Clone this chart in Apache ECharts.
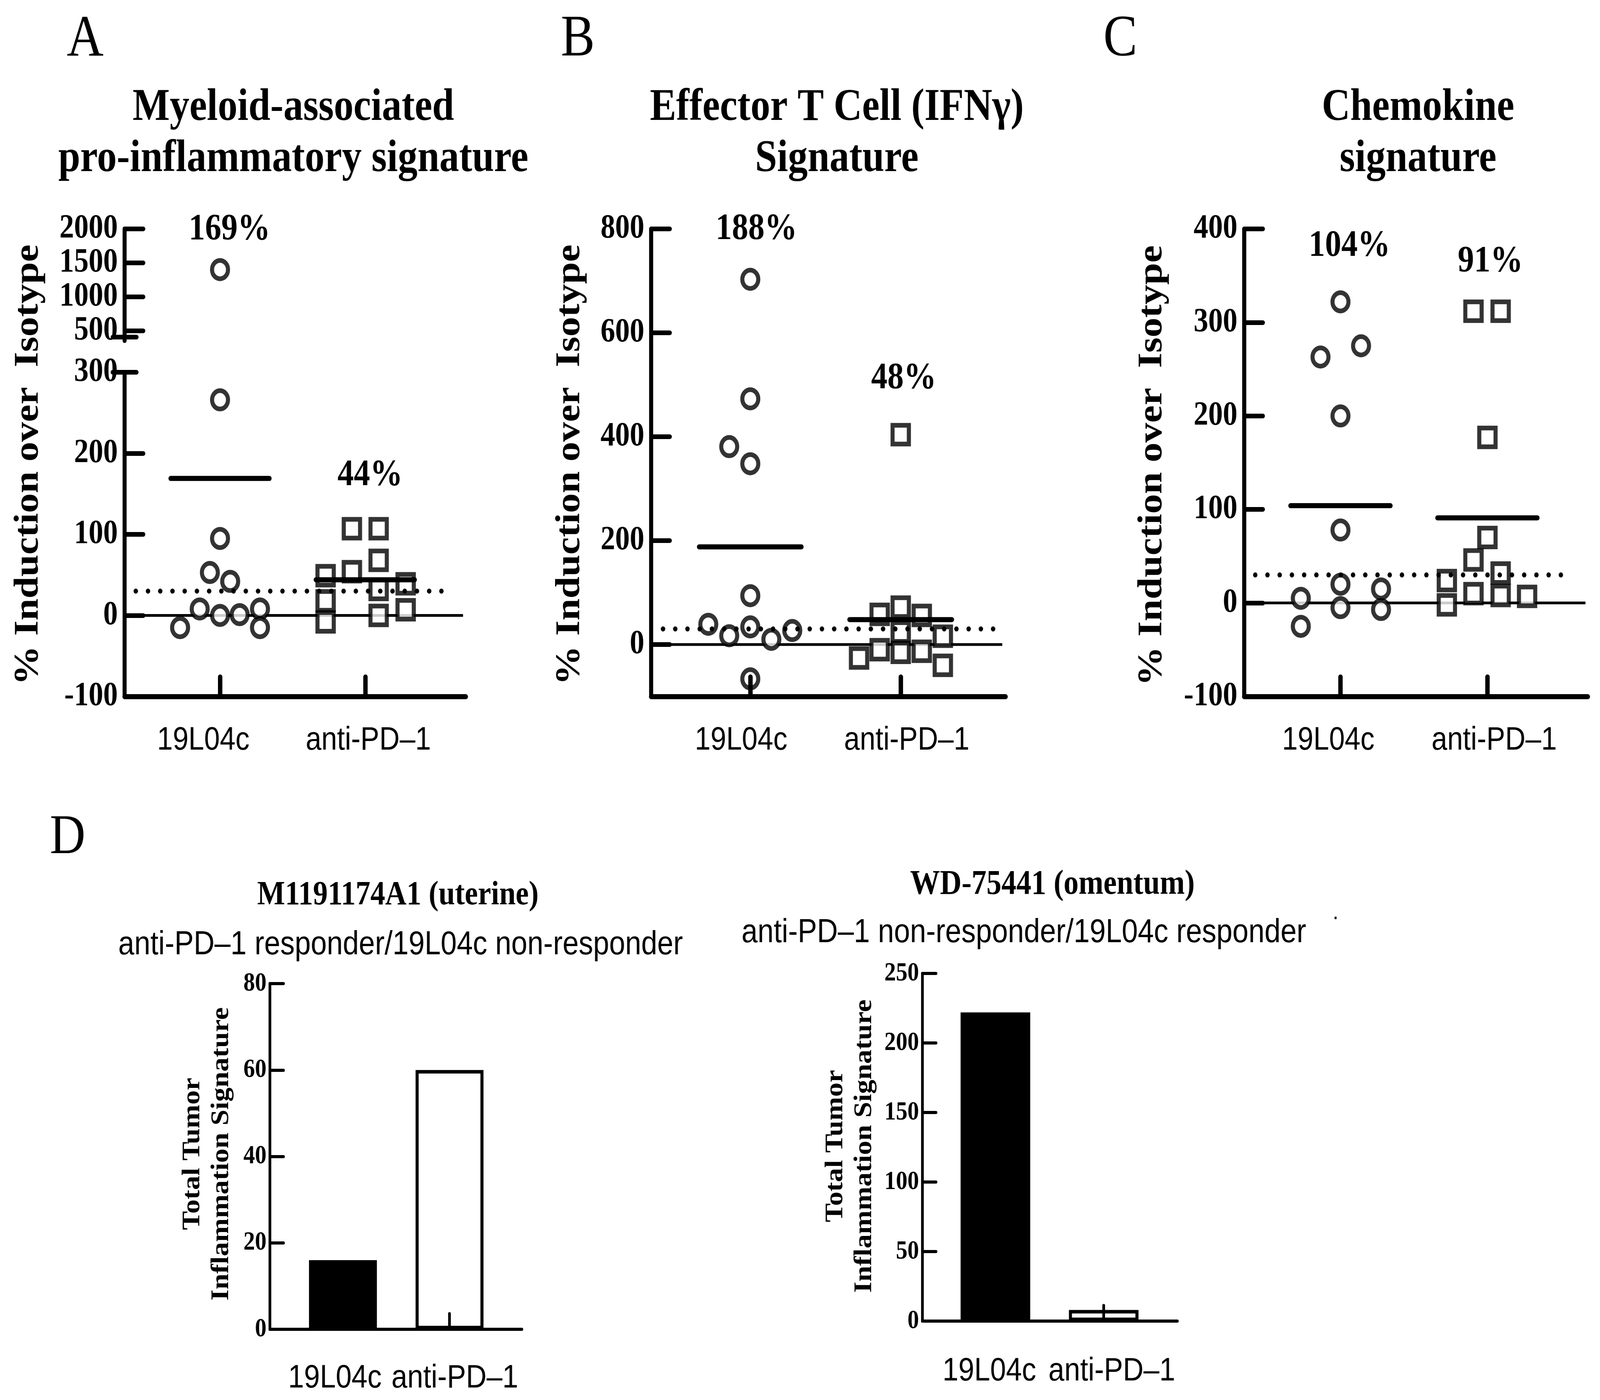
<!DOCTYPE html>
<html>
<head>
<meta charset="utf-8">
<title>Signature induction over isotype</title>
<script src="https://cdn.jsdelivr.net/npm/echarts@6/dist/echarts.min.js"></script>
<style>
html, body { margin: 0; padding: 0; background: #fff; overflow: hidden; }
#chart { position: fixed; left: 0; top: 0; width: 4713px; height: 3584px; transform-origin: 0 0; }
</style>
</head>
<body>
<div id="chart"></div>
<script>
var groups = ['19L04c', 'anti-PD\u20131'];
var threshold = 30;

// A: myeloid-associated pro-inflammatory signature (% induction over isotype)
var myeloid19L = [1401, 266, 95, 53, 42, 8, 0, 1, 8, -15, -15];
var myeloid19LJitter = [0, 0, 0, -0.07, 0.07, -0.14, 0, 0.135, 0.275, -0.275, 0.275];
var myeloidPD1 = [49, 18, -8, 107, 54, 107, 68, 32, 0, 39, 7];
var myeloidPD1Jitter = [-0.273, -0.273, -0.273, -0.092, -0.092, 0.092, 0.092, 0.092, 0.092, 0.278, 0.278];
var myeloidMeans = [169, 44];
var myeloidUpperTicks = [500, 1000, 1500, 2000];

// B: effector T cell (IFNγ) signature
var effector19L = [703, 473, 348, 94, 34, -66, 381, 17, 39, 27, 10];
var effector19LJitter = [0, 0, 0, 0, 0, 0, -0.14, -0.14, -0.279, 0.279, 0.14];
var effectorPD1 = [404, -26, 58, -10, 72, 24, -15, 56, -13, 16, -40];
var effectorPD1Jitter = [0, -0.277, -0.14, -0.14, 0, 0, 0, 0.14, 0.14, 0.28, 0.28];
var effectorMeans = [188, 48];
var effectorTicks = [0, 200, 400, 600, 800];

// C: chemokine signature
var chemo19L = [322, 200, 78, 20, -5, 275, 263, 15, -7, 5, -25];
var chemo19LJitter = [0, 0, 0, 0, 0, 0.14, -0.136, 0.276, 0.276, -0.27, -0.27];
var chemoPD1 = [24, -2, 312, 46, 10, 177, 70, 312, 32, 8, 7];
var chemoPD1Jitter = [-0.276, -0.276, -0.095, -0.095, -0.095, 0, 0, 0.09, 0.09, 0.09, 0.27];
var chemoMeans = [104, 91];

// D: total tumor inflammation signature
var tisUterine = [16, 60];
var tisOmentum = [222, 8];

var serif = '"Liberation Serif"';
var sans = '"Liberation Sans"';

// the drawing is laid out on a 4713 x 3584 board, stretched to fill the window
var W = 4713, H = 3584;
var box = document.getElementById('chart');
box.style.transform = 'scale(' + (window.innerWidth / W) + ',' + (window.innerHeight / H) + ')';

function points(vals, jitter, group) {
  return vals.map(function (v, i) { return [group + jitter[i], v]; });
}

var markerStyle = { color: '#fff', borderColor: '#000', borderWidth: 12 };

function dots(data, ax, symbol) {
  return {
    type: 'scatter', xAxisIndex: ax, yAxisIndex: ax, data: data,
    symbol: symbol, symbolSize: symbol === 'circle' ? 47 : 48,
    itemStyle: markerStyle, z: 3, silent: true
  };
}

function hline(ax, y, x0, x1, style, z) {
  return {
    type: 'line', xAxisIndex: ax, yAxisIndex: ax, data: [[x0, y], [x1, y]],
    symbol: 'none', lineStyle: style, z: z, silent: true
  };
}

function meanLines(ax, means) {
  return means.map(function (m, i) {
    return hline(ax, m, i + 1 - 0.34, i + 1 + 0.34, { color: '#000', width: 13, cap: 'round' }, 5);
  });
}

function dottedLine(ax, x0, x1) {
  return hline(ax, threshold, x0, x1, { color: '#000', width: 13, type: [0.01, 36], cap: 'round' }, 4);
}

function zeroLine(ax, x0, x1) {
  return hline(ax, 0, x0, x1, { color: '#000', width: 7 }, 1);
}

// labels sit a little off their ticks, as in the figure
function catLabel(size, shiftL, shiftR, margin) {
  return {
    customValues: [1 + shiftL, 2 + shiftR],
    margin: margin,
    color: '#000', fontFamily: sans, fontSize: size,
    formatter: function (v) { return v < 1.5 ? groups[0] : groups[1]; }
  };
}

function xAx(grid, min, max, label, thick, tickLen) {
  return {
    type: 'value', gridIndex: grid, min: min, max: max, z: 6,
    axisLine: { show: true, onZero: false, lineStyle: { color: '#000', width: thick, cap: 'round' } },
    axisTick: { show: true, inside: true, length: tickLen, customValues: [1, 2], lineStyle: { color: '#000', width: thick, cap: 'round' } },
    axisLabel: label,
    splitLine: { show: false }
  };
}

function yAx(grid, min, max, extra, big) {
  var ax = {
    type: 'value', gridIndex: grid, min: min, max: max,
    axisLine: { show: true, onZero: false, lineStyle: { color: '#000', width: big ? 12 : 8 } },
    axisTick: { show: true, inside: true, length: big ? 55 : 40, lineStyle: { color: '#000', width: big ? 12 : 8, cap: 'round' } },
    axisLabel: {
      color: '#000', fontFamily: serif, fontWeight: 'bold', fontSize: big ? 86 : 68, margin: big ? 20 : 10,
      formatter: function (v) { return String(v); }
    },
    splitLine: { show: false }
  };
  for (var k in extra) {
    if (typeof extra[k] === 'object' && ax[k]) Object.assign(ax[k], extra[k]); else ax[k] = extra[k];
  }
  return ax;
}

var upperA = points(myeloid19L, myeloid19LJitter, 1).filter(function (p) { return p[1] > 300; });
var lowerA = points(myeloid19L, myeloid19LJitter, 1).filter(function (p) { return p[1] <= 300; });

var barStyles = [
  { color: '#000', borderColor: '#000', borderWidth: 9 },
  { color: '#fff', borderColor: '#000', borderWidth: 9 }
];
function bars(vals) {
  return vals.map(function (v, i) { return { value: [i + 1, v], itemStyle: barStyles[i] }; });
}

function text(id, x, y, str, font, extra) {
  var el = {
    type: 'text', id: id, x: x, y: y, z: 10, silent: true,
    style: { text: str, font: font, fill: '#000', align: 'center', verticalAlign: 'middle' }
  };
  if (extra) {
    if (extra.rotation) el.rotation = extra.rotation;
    if (extra.lineHeight) el.style.lineHeight = extra.lineHeight;
  }
  return el;
}

var rot = { rotation: Math.PI / 2 };
var yTitle = '% Induction over  Isotype';
var tisTitle = 'Total Tumor\nInflammation Signature';

var option = {
  animation: false,
  backgroundColor: '#fff',
  grid: [
    { left: 367, top: 586, width: 1005, height: 286, outerBoundsMode: 'none' },
    { left: 367, top: 953, width: 1005, height: 830, outerBoundsMode: 'none' },
    { left: 1918, top: 586, width: 1044, height: 1197, outerBoundsMode: 'none' },
    { left: 3665, top: 586, width: 1012, height: 1197, outerBoundsMode: 'none' },
    { left: 795, top: 2518, width: 742, height: 885, outerBoundsMode: 'none' },
    { left: 2717, top: 2492, width: 751, height: 890, outerBoundsMode: 'none' }
  ],
  xAxis: [
    { type: 'value', gridIndex: 0, min: 0.343, max: 2.692, show: false },
    xAx(1, 0.343, 2.692, catLabel(83, -0.115, 0.021, 72), 13, 50),
    xAx(2, 0.341, 2.697, catLabel(83, -0.061, 0.04, 72), 13, 50),
    xAx(3, 0.345, 2.683, catLabel(83, -0.083, 0.046, 72), 13, 50),
    xAx(4, 0.315, 2.678, catLabel(84, -0.075, 0.05, 84), 8, 40),
    xAx(5, 0.326, 2.68, catLabel(84, -0.056, 0.075, 87), 8, 40)
  ],
  yAxis: [
    yAx(0, 356, 2000, { axisTick: { customValues: myeloidUpperTicks }, axisLabel: { customValues: myeloidUpperTicks } }, true),
    yAx(1, -100, 300, { interval: 100, axisTick: { customValues: [-100, 0, 100, 200] }, axisLabel: { customValues: [-100, 0, 100, 200, 300] } }, true),
    yAx(2, -100, 800, { axisTick: { customValues: effectorTicks }, axisLabel: { customValues: effectorTicks } }, true),
    yAx(3, -100, 400, { interval: 100 }, true),
    yAx(4, 0, 80, { interval: 20 }, false),
    yAx(5, 0, 250, { interval: 50 }, false)
  ],
  series: [
    dots(upperA, 0, 'circle'),
    zeroLine(1, 0.343, 2.673),
    dots(lowerA, 1, 'circle'),
    dots(points(myeloidPD1, myeloidPD1Jitter, 2), 1, 'rect'),
    dottedLine(1, 0.42, 2.585),

    zeroLine(2, 0.341, 2.675),
    dots(points(effector19L, effector19LJitter, 1), 2, 'circle'),
    dots(points(effectorPD1, effectorPD1Jitter, 2), 2, 'rect'),
    dottedLine(2, 0.42, 2.635),

    zeroLine(3, 0.345, 2.667),
    dots(points(chemo19L, chemo19LJitter, 1), 3, 'circle'),
    dots(points(chemoPD1, chemoPD1Jitter, 2), 3, 'rect'),
    dottedLine(3, 0.42, 2.565),

    { type: 'bar', xAxisIndex: 4, yAxisIndex: 4, barWidth: 200, data: bars(tisUterine), z: 2, silent: true },
    { type: 'bar', xAxisIndex: 5, yAxisIndex: 5, barWidth: 205, data: bars(tisOmentum), z: 2, silent: true }
  ].concat(meanLines(1, myeloidMeans), meanLines(2, effectorMeans), meanLines(3, chemoMeans)),
  graphic: [
    text('la', 251, 103, 'A', '150px ' + serif),
    text('lb', 1702, 103, 'B', '150px ' + serif),
    text('lc', 3300, 103, 'C', '150px ' + serif),
    text('ld', 199, 2146, 'D', '145px ' + serif),
    text('ta', 864, 343, 'Myeloid-associated\npro-inflammatory signature', 'bold 116px ' + serif, { lineHeight: 131 }),
    text('tb', 2465, 343, 'Effector T Cell (IFN\u03b3)\nSignature', 'bold 116px ' + serif, { lineHeight: 131 }),
    text('tc', 4177, 343, 'Chemokine\nsignature', 'bold 116px ' + serif, { lineHeight: 131 }),
    text('ya', 85, 1190, yTitle, 'bold 101px ' + serif, rot),
    text('yb', 1680, 1190, yTitle, 'bold 101px ' + serif, rot),
    text('yc', 3395, 1192, yTitle, 'bold 101px ' + serif, rot),
    text('pa1', 676, 588, myeloidMeans[0] + '%', 'bold 96px ' + serif),
    text('pa2', 1090, 1217, myeloidMeans[1] + '%', 'bold 96px ' + serif),
    text('pb1', 2228, 587, effectorMeans[0] + '%', 'bold 96px ' + serif),
    text('pb2', 2662, 969, effectorMeans[1] + '%', 'bold 96px ' + serif),
    text('pc1', 3975, 630, chemoMeans[0] + '%', 'bold 96px ' + serif),
    text('pc2', 4390, 670, chemoMeans[1] + '%', 'bold 96px ' + serif),
    text('td1', 1172, 2293, 'M1191174A1 (uterine)', 'bold 87px ' + serif),
    text('sd1', 1180, 2420, 'anti-PD\u20131 responder/19L04c non-responder', '85px ' + sans),
    text('td2', 3100, 2265, 'WD-75441 (omentum)', 'bold 88px ' + serif),
    text('sd2', 3016, 2389, 'anti-PD\u20131 non-responder/19L04c responder', '85px ' + sans),
    text('dot', 3934, 2336, '.', '60px ' + sans),
    text('yd1', 611, 2954, tisTitle, 'bold 73px ' + serif, { rotation: Math.PI / 2, lineHeight: 85 }),
    text('yd2', 2505, 2934, tisTitle, 'bold 73px ' + serif, { rotation: Math.PI / 2, lineHeight: 85 })
  ]
};

var chart = echarts.init(box, null, { width: W, height: H });
option && chart.setOption(option);

// axis break marks on the split y axis of panel A
var breakUpper = chart.convertToPixel({ gridIndex: 0 }, [0.343, 408]);
var breakLower = chart.convertToPixel({ gridIndex: 1 }, [0.343, 300]);
var breakStyle = { stroke: '#000', lineWidth: 12, lineCap: 'round' };
chart.setOption({
  graphic: [
    { type: 'line', id: 'brk1', silent: true, z: 10, shape: { x1: breakUpper[0] - 35, y1: breakUpper[1], x2: breakUpper[0] + 35, y2: breakUpper[1] }, style: breakStyle },
    { type: 'line', id: 'brk2', silent: true, z: 10, shape: { x1: breakLower[0] - 35, y1: breakLower[1], x2: breakLower[0] + 35, y2: breakLower[1] }, style: breakStyle }
  ]
});
</script>
</body>
</html>
